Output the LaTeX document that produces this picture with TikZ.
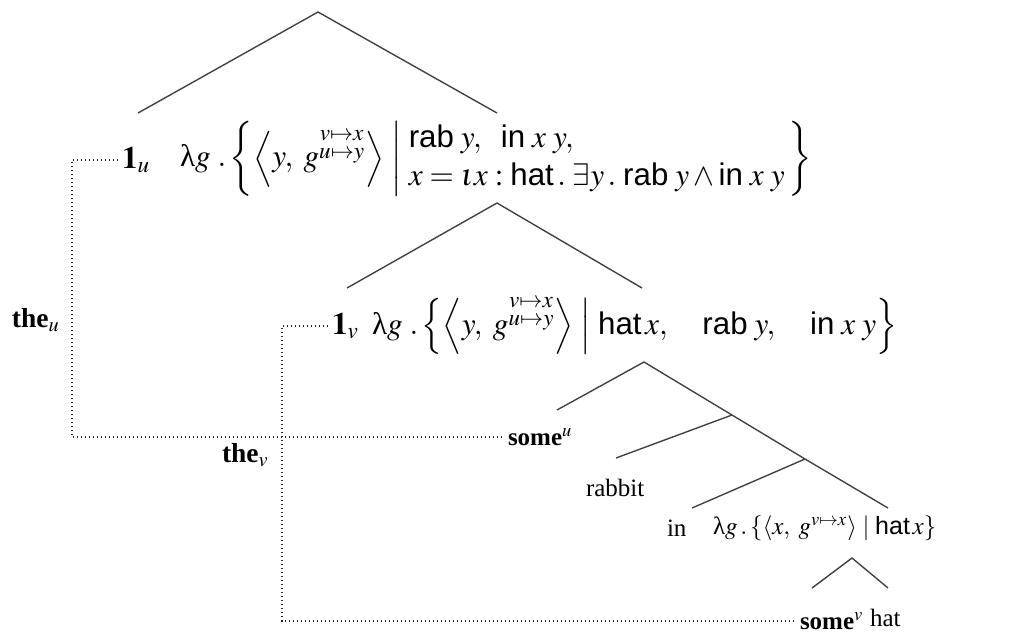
\documentclass[tikz,border=0pt]{standalone}
\usepackage{amsmath}
\usepackage{mathptmx}
\usepackage[no-math]{fontspec}
\setmainfont{Liberation Serif}
\setsansfont{Liberation Sans}
\newcommand{\lam}{\textup{λ}}
\tikzset{
  tree/.style={draw=black!75, line width=0.55pt},
  dots/.style={draw=black!85, densely dotted, line width=0.6pt},
  lbl/.style={inner sep=0pt, outer sep=0pt},
  big/.style={lbl, font=\fontsize{12.5}{15}\selectfont},
}
\begin{document}
\begin{tikzpicture}[x=0.4pt,y=-0.4pt]
\useasboundingbox (0,0) rectangle (1034,636);
% text nodes
\node[big,anchor=west] (oneu) at (122,160) {$\mathbf{1}_u$};
\node[big,anchor=west] (semu) at (180,159) {$\lam g\;.\left\{\left\langle y,\; g^{\substack{v\mapsto x\\u\mapsto y}}\right\rangle\;\middle|\;\begin{array}{@{}l@{}}\textsf{rab}\;y,\ \ \textsf{in}\;x\;y,\\ x=\iota x:\textsf{hat}\,.\;\exists y\,.\;\textsf{rab}\;y\wedge\textsf{in}\;x\;y\end{array}\,\right\}$};
\node[big,anchor=west] (onev) at (332,326) {$\mathbf{1}_v$};
\node[big,anchor=west] (semv) at (372,326) {$\lam g\;.\left\{\left\langle y,\; g^{\substack{v\mapsto x\\u\mapsto y}}\right\rangle\;\middle|\;\textsf{hat}\,x,\quad\textsf{rab}\;y,\quad\textsf{in}\;x\;y\right\}$};
\node[lbl,anchor=west] (in) at (667,528) {in};
\node[lbl,anchor=west] (semh) at (713,528) {$\lam g\,.\,\{\langle x,\; g^{v\mapsto x}\rangle\mid\textsf{hat}\,x\}$};
\node[lbl,anchor=west] (someu) at (508,437) {\textbf{some}$^u$};
\node[lbl,anchor=west] (rabbit) at (586,488) {rabbit};
\node[lbl,anchor=west] (somev) at (800,621) {\textbf{some}$^v$};
\node[lbl,anchor=west] (hat) at (870,618) {hat};
\node[lbl,anchor=west,font=\fontsize{11}{13}\selectfont] (theu) at (12,320) {\textbf{the}$_u$};
\node[lbl,anchor=west,font=\fontsize{11}{13}\selectfont] (thev) at (222,455) {\textbf{the}$_v$};
% tree coordinates
\coordinate (r1) at (318,12);
\coordinate (r1l) at (138,113);
\coordinate (r1r) at (497,113);
\coordinate (r2) at (497,203);
\coordinate (r2l) at (347,288);
\coordinate (r2r) at (642,288);
\coordinate (r3) at (644,362);
\coordinate (r3l) at (557,410);
\coordinate (j1) at (732,415);
\coordinate (rl) at (616,458);
\coordinate (j2) at (805,459);
\coordinate (inl) at (692,508);
\coordinate (j2r) at (888,508);
\coordinate (r4) at (852,558);
\coordinate (r4l) at (812,588);
\coordinate (r4r) at (888,588);
\coordinate (cu) at (72,0);
\coordinate (cv) at (282,0);
% tree edges
\draw[tree] (r1l) -- (r1) -- (r1r);
\draw[tree] (r2l) -- (r2) -- (r2r);
\draw[tree] (r3l) -- (r3) -- (j1) -- (j2) -- (j2r);
\draw[tree] (j1) -- (rl);
\draw[tree] (j2) -- (inl);
\draw[tree] (r4l) -- (r4) -- (r4r);
% binding lines
\draw[dots, shorten <=1.5pt, shorten >=1.5pt] (oneu.west) -| (cu |- someu.west) -- (someu.west);
\draw[dots, shorten <=1.5pt, shorten >=1.5pt] (onev.west) -| (cv |- somev.west) -- (somev.west);
\end{tikzpicture}
\end{document}
